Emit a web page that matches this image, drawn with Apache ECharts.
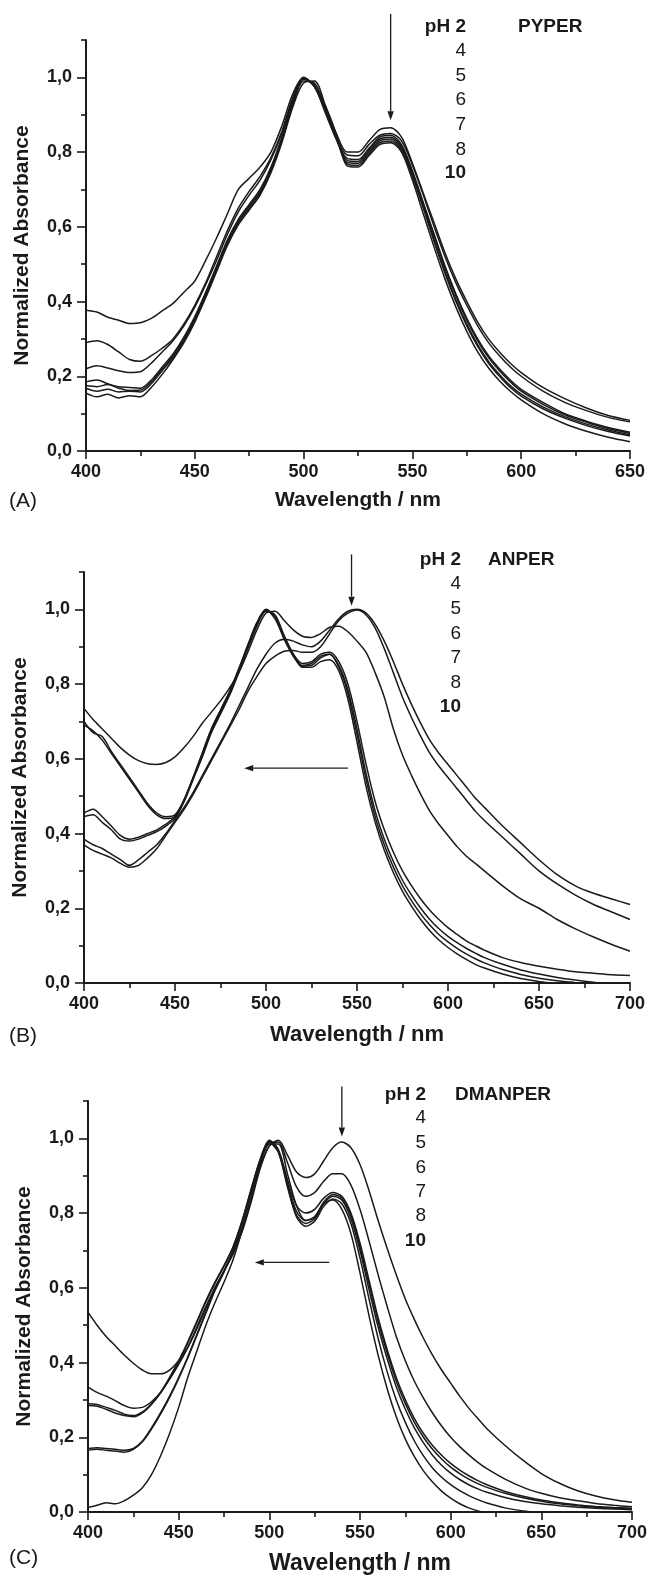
<!DOCTYPE html>
<html><head><meta charset="utf-8">
<script src="https://cdn.jsdelivr.net/npm/echarts@6/dist/echarts.min.js"></script>
<style>html,body{margin:0;padding:0;background:#fff}#c{width:650px;height:1576px}</style>
</head><body><div id="c"></div><script>
// ---------- DATA ----------
const wlA = [400,405,410,415,420,425,430,435,440,445,450,455,460,465,470,475,480,485,490,495,500,505,510,515,520,525,530,535,540,545,550,555,560,565,570,575,580,585,590,595,600,610,620,630,640,650];
const wlB = [400,405,410,415,420,425,430,435,440,445,450,455,460,465,470,475,480,485,490,495,500,505,510,515,520,525,530,535,540,545,550,555,560,565,570,575,580,585,590,595,600,605,610,615,620,630,640,650,660,670,680,690,700];
const wlC = wlB.slice();

const phLabels = ["pH 2","4","5","6","7","8","10"];
const compoundNames = ["PYPER","ANPER","DMANPER"];
const panelLetters = ["(A)","(B)","(C)"];
const yMajorTicks = [0,0.2,0.4,0.6,0.8,1.0];
const yMinorTicks = [0.1,0.3,0.5,0.7,0.9,1.1];

// Panel A: PYPER
const A_pH2 = [0.377,0.372,0.358,0.350,0.341,0.343,0.355,0.375,0.395,0.425,0.455,0.510,0.570,0.635,0.700,0.730,0.760,0.800,0.870,0.955,1.000,0.975,0.915,0.850,0.800,0.800,0.830,0.860,0.865,0.840,0.770,0.690,0.610,0.530,0.460,0.400,0.345,0.300,0.265,0.235,0.210,0.170,0.140,0.115,0.095,0.082];
const A_pH4 = [0.290,0.295,0.285,0.265,0.245,0.240,0.255,0.275,0.300,0.340,0.390,0.450,0.520,0.590,0.650,0.695,0.735,0.785,0.855,0.945,0.998,0.975,0.910,0.840,0.792,0.790,0.820,0.845,0.850,0.830,0.765,0.685,0.600,0.520,0.450,0.390,0.335,0.290,0.255,0.225,0.200,0.160,0.130,0.108,0.090,0.078];
const A_pH5 = [0.220,0.228,0.222,0.215,0.210,0.212,0.235,0.265,0.295,0.335,0.385,0.445,0.510,0.580,0.640,0.685,0.725,0.780,0.850,0.940,0.998,0.975,0.905,0.835,0.783,0.780,0.810,0.840,0.845,0.820,0.750,0.665,0.580,0.495,0.420,0.355,0.300,0.255,0.220,0.190,0.165,0.130,0.100,0.080,0.063,0.050];
const A_pH6 = [0.185,0.190,0.180,0.172,0.170,0.168,0.190,0.225,0.260,0.305,0.360,0.425,0.495,0.565,0.620,0.660,0.700,0.760,0.840,0.935,0.998,0.978,0.910,0.835,0.778,0.775,0.805,0.835,0.840,0.815,0.745,0.660,0.575,0.490,0.415,0.350,0.295,0.250,0.215,0.185,0.160,0.125,0.097,0.077,0.060,0.047];
const A_pH7 = [0.175,0.172,0.178,0.168,0.162,0.163,0.185,0.220,0.255,0.300,0.355,0.420,0.490,0.560,0.615,0.655,0.695,0.755,0.835,0.930,0.995,0.980,0.915,0.840,0.772,0.770,0.800,0.830,0.835,0.810,0.740,0.655,0.565,0.480,0.405,0.340,0.285,0.240,0.205,0.175,0.152,0.118,0.092,0.072,0.056,0.043];
const A_pH8 = [0.168,0.160,0.165,0.158,0.160,0.158,0.180,0.215,0.250,0.295,0.350,0.415,0.485,0.555,0.610,0.650,0.690,0.750,0.830,0.925,0.990,0.985,0.920,0.845,0.768,0.765,0.795,0.825,0.830,0.805,0.735,0.650,0.560,0.475,0.400,0.335,0.280,0.235,0.200,0.170,0.147,0.113,0.088,0.068,0.052,0.040];
const A_pH10 = [0.155,0.145,0.152,0.142,0.148,0.145,0.170,0.205,0.245,0.290,0.345,0.410,0.480,0.550,0.605,0.645,0.685,0.745,0.825,0.920,0.985,0.990,0.925,0.850,0.763,0.760,0.790,0.820,0.825,0.800,0.725,0.635,0.545,0.460,0.385,0.320,0.265,0.222,0.188,0.160,0.137,0.100,0.073,0.053,0.037,0.025];

// Panel B: ANPER
const B_pH2 = [0.385,0.370,0.360,0.345,0.330,0.315,0.330,0.350,0.370,0.400,0.435,0.470,0.510,0.555,0.600,0.645,0.690,0.740,0.790,0.840,0.880,0.910,0.920,0.915,0.905,0.900,0.915,0.945,0.975,0.995,1.000,0.990,0.960,0.915,0.860,0.800,0.745,0.695,0.650,0.615,0.585,0.555,0.525,0.495,0.470,0.420,0.375,0.330,0.290,0.260,0.240,0.225,0.210];
const B_pH4 = [0.370,0.355,0.345,0.335,0.320,0.310,0.315,0.335,0.360,0.395,0.430,0.465,0.505,0.550,0.595,0.640,0.685,0.730,0.780,0.820,0.855,0.875,0.888,0.890,0.885,0.885,0.900,0.935,0.970,0.990,0.998,0.985,0.950,0.895,0.830,0.765,0.710,0.660,0.615,0.580,0.550,0.520,0.490,0.460,0.435,0.390,0.345,0.300,0.265,0.235,0.210,0.190,0.170];
const B_pH5 = [0.735,0.705,0.680,0.655,0.630,0.610,0.595,0.587,0.585,0.590,0.605,0.630,0.660,0.695,0.725,0.755,0.790,0.830,0.885,0.945,0.990,0.995,0.970,0.945,0.928,0.925,0.935,0.952,0.955,0.940,0.915,0.885,0.830,0.765,0.680,0.610,0.555,0.505,0.460,0.425,0.395,0.365,0.340,0.320,0.300,0.260,0.225,0.200,0.170,0.145,0.123,0.103,0.085];
const B_pH6 = [0.700,0.670,0.660,0.620,0.585,0.550,0.515,0.480,0.455,0.445,0.450,0.490,0.550,0.615,0.680,0.730,0.780,0.840,0.900,0.960,0.998,0.975,0.925,0.880,0.855,0.860,0.880,0.885,0.860,0.800,0.700,0.585,0.485,0.410,0.350,0.300,0.260,0.225,0.195,0.170,0.148,0.130,0.113,0.100,0.088,0.068,0.055,0.045,0.037,0.030,0.026,0.022,0.020];
const B_pH7 = [0.690,0.675,0.650,0.615,0.580,0.545,0.510,0.475,0.450,0.440,0.445,0.490,0.550,0.615,0.680,0.730,0.780,0.840,0.905,0.965,1.000,0.975,0.920,0.875,0.850,0.855,0.875,0.880,0.850,0.785,0.680,0.560,0.460,0.385,0.325,0.275,0.235,0.200,0.170,0.145,0.125,0.108,0.093,0.080,0.068,0.050,0.035,0.024,0.015,0.008,0.002,-0.003,-0.006];
const B_pH8 = [0.455,0.465,0.445,0.420,0.395,0.385,0.390,0.400,0.410,0.425,0.445,0.490,0.550,0.610,0.675,0.725,0.775,0.835,0.900,0.960,0.998,0.980,0.925,0.875,0.848,0.850,0.870,0.880,0.845,0.775,0.665,0.545,0.445,0.370,0.310,0.260,0.220,0.185,0.155,0.130,0.110,0.093,0.078,0.065,0.054,0.036,0.023,0.013,0.006,0.001,-0.004,-0.008,-0.012];
const B_pH10 = [0.445,0.450,0.430,0.410,0.385,0.380,0.385,0.395,0.405,0.420,0.440,0.485,0.545,0.605,0.670,0.720,0.770,0.830,0.895,0.955,0.995,0.985,0.930,0.880,0.845,0.845,0.860,0.865,0.835,0.760,0.645,0.525,0.430,0.355,0.295,0.245,0.205,0.170,0.140,0.115,0.095,0.078,0.063,0.050,0.040,0.024,0.012,0.004,-0.003,-0.010,-0.015,-0.020,-0.025];

// Panel C: DMANPER
const C_pH2 = [0.535,0.500,0.470,0.445,0.420,0.398,0.380,0.370,0.370,0.380,0.405,0.440,0.490,0.545,0.600,0.645,0.690,0.750,0.830,0.920,0.980,0.995,0.955,0.910,0.895,0.905,0.940,0.975,0.990,0.975,0.930,0.860,0.780,0.705,0.635,0.570,0.515,0.465,0.420,0.380,0.345,0.310,0.278,0.250,0.223,0.178,0.138,0.103,0.077,0.057,0.043,0.033,0.026];
const C_pH4 = [0.335,0.320,0.310,0.298,0.285,0.278,0.280,0.295,0.320,0.355,0.395,0.440,0.495,0.550,0.600,0.645,0.695,0.760,0.840,0.925,0.980,0.990,0.935,0.870,0.845,0.855,0.885,0.905,0.905,0.875,0.810,0.725,0.635,0.550,0.470,0.405,0.350,0.305,0.265,0.230,0.200,0.175,0.153,0.133,0.116,0.088,0.066,0.050,0.038,0.030,0.023,0.018,0.014];
const C_pH5 = [0.290,0.288,0.280,0.272,0.262,0.258,0.268,0.290,0.320,0.360,0.405,0.455,0.510,0.565,0.615,0.660,0.710,0.780,0.865,0.945,0.995,0.970,0.890,0.820,0.800,0.810,0.840,0.855,0.845,0.800,0.720,0.620,0.520,0.435,0.360,0.300,0.250,0.210,0.178,0.152,0.130,0.112,0.097,0.084,0.073,0.055,0.042,0.032,0.025,0.019,0.015,0.012,0.010];
const C_pH6 = [0.285,0.283,0.275,0.265,0.258,0.255,0.265,0.288,0.318,0.358,0.402,0.452,0.507,0.562,0.612,0.657,0.708,0.778,0.862,0.942,0.993,0.965,0.880,0.805,0.780,0.790,0.830,0.850,0.840,0.795,0.710,0.610,0.510,0.425,0.350,0.290,0.240,0.200,0.168,0.142,0.120,0.103,0.088,0.076,0.066,0.050,0.038,0.029,0.022,0.017,0.013,0.010,0.008];
const C_pH7 = [0.170,0.172,0.170,0.168,0.165,0.170,0.190,0.225,0.265,0.310,0.360,0.415,0.475,0.535,0.595,0.645,0.700,0.775,0.860,0.940,0.990,0.965,0.875,0.795,0.772,0.785,0.825,0.845,0.835,0.785,0.700,0.595,0.495,0.410,0.335,0.275,0.225,0.185,0.152,0.125,0.104,0.087,0.073,0.062,0.053,0.039,0.029,0.022,0.017,0.013,0.010,0.008,0.006];
const C_pH8 = [0.165,0.168,0.165,0.163,0.160,0.168,0.188,0.222,0.262,0.307,0.357,0.412,0.472,0.532,0.592,0.642,0.698,0.772,0.857,0.937,0.988,0.962,0.870,0.790,0.765,0.778,0.818,0.838,0.825,0.772,0.680,0.570,0.465,0.375,0.300,0.240,0.190,0.150,0.118,0.093,0.073,0.057,0.044,0.033,0.024,0.011,0.003,-0.002,-0.006,-0.010,-0.013,-0.016,-0.018];
const C_pH10 = [0.012,0.018,0.025,0.022,0.030,0.045,0.065,0.100,0.150,0.210,0.280,0.360,0.430,0.500,0.560,0.615,0.675,0.755,0.845,0.930,0.985,0.985,0.905,0.820,0.780,0.790,0.825,0.835,0.810,0.745,0.640,0.525,0.420,0.330,0.255,0.195,0.148,0.110,0.080,0.056,0.037,0.022,0.011,0.003,-0.003,-0.010,-0.015,-0.020,-0.025,-0.030,-0.035,-0.040,-0.045];

// annotation arrows, in data coordinates [x0, y0, x1(tip), y1(tip)]
const arrowsA = [[540, 1.17, 540, 0.885]];
const arrowsB = [[547, 1.147, 547, 1.01], [545, 0.575, 488, 0.575]];
const arrowsC = [[540, 1.139, 540, 1.005], [533, 0.668, 492, 0.668]];

// ---------- CHART ----------
const FONT = "'Liberation Sans', Arial, Helvetica, sans-serif";
const INK = '#1a1a1a';
const panels = [
  { wl: wlA, curves: [A_pH2,A_pH4,A_pH5,A_pH6,A_pH7,A_pH8,A_pH10], xmax: 650, arrows: arrowsA,
    grid: {left: 86, top: 40, width: 544, height: 411}, nameGap: 39, titleSize: 21,
    legend: {rightX: 466, nameX: 518, ys: [27,51,76,100,125,150,173]}, letterY: 501 },
  { wl: wlB, curves: [B_pH2,B_pH4,B_pH5,B_pH6,B_pH7,B_pH8,B_pH10], xmax: 700, arrows: arrowsB,
    grid: {left: 84, top: 572, width: 546, height: 411}, nameGap: 41, titleSize: 22,
    legend: {rightX: 461, nameX: 488, ys: [560,584,609,634,658,683,707]}, letterY: 1036 },
  { wl: wlC, curves: [C_pH2,C_pH4,C_pH5,C_pH6,C_pH7,C_pH8,C_pH10], xmax: 700, arrows: arrowsC,
    grid: {left: 88, top: 1101, width: 546, height: 411}, nameGap: 40, titleSize: 23,
    legend: {rightX: 426, nameX: 455, ys: [1095,1118,1143,1168,1192,1216,1241]}, letterY: 1558 }
];

const fmt = v => v.toFixed(1).replace('.', ',');
const axisLineStyle = {color: INK, width: 2};

const option = {
  animation: false,
  backgroundColor: '#fff',
  grid: panels.map(p => Object.assign({containLabel: false}, p.grid)),
  xAxis: panels.map((p, k) => ({
    type: 'value', gridIndex: k, min: 400, max: p.xmax, interval: 50,
    axisLine: {show: true, onZero: false, lineStyle: axisLineStyle},
    axisTick: {show: true, length: 8, lineStyle: {color: INK, width: 1.6}},
    minorTick: {show: true, splitNumber: 2, length: 5, lineStyle: {color: INK, width: 1.6}},
    axisLabel: {fontSize: 18, fontWeight: 'bold', fontFamily: FONT, color: INK, margin: 12},
    splitLine: {show: false}, minorSplitLine: {show: false},
    name: 'Wavelength / nm', nameLocation: 'middle', nameGap: p.nameGap,
    nameTextStyle: {fontSize: p.titleSize, fontWeight: 'bold', fontFamily: FONT, color: INK}
  })),
  yAxis: [],
  series: [],
  graphic: []
};

panels.forEach((p, k) => {
  option.yAxis.push({
    type: 'value', gridIndex: k, min: 0, max: 1.1, position: 'left',
    axisLine: {show: true, onZero: false, lineStyle: axisLineStyle},
    axisTick: {show: true, length: 9, customValues: yMajorTicks, lineStyle: {color: INK, width: 1.6}},
    axisLabel: {customValues: yMajorTicks, formatter: fmt, fontSize: 18, fontWeight: 'bold', fontFamily: FONT, color: INK, margin: 14},
    splitLine: {show: false},
    name: 'Normalized Absorbance', nameLocation: 'middle', nameGap: 53,
    nameTextStyle: {fontSize: 21, fontWeight: 'bold', fontFamily: FONT, color: INK}
  });
  option.yAxis.push({
    type: 'value', gridIndex: k, min: 0, max: 1.1, position: 'left', offset: 0,
    axisLine: {show: false},
    axisTick: {show: true, length: 5, customValues: yMinorTicks, lineStyle: {color: INK, width: 1.6}},
    axisLabel: {show: false}, splitLine: {show: false}
  });
  p.curves.forEach((vals, i) => {
    option.series.push({
      type: 'line', name: phLabels[i] + ' ' + compoundNames[k],
      xAxisIndex: k, yAxisIndex: 2 * k,
      data: p.wl.map((w, j) => [w, vals[j]]),
      showSymbol: false, symbol: 'none', smooth: 0.3, clip: true,
      lineStyle: {color: INK, width: 1.5}
    });
  });
  // legend-like text column
  p.legend.ys.forEach((y, i) => {
    const bold = (i === 0 || i === phLabels.length - 1);
    option.graphic.push({type: 'text', style: {
      text: phLabels[i], x: p.legend.rightX, y: y,
      align: 'right', textAlign: 'right', verticalAlign: 'middle', textVerticalAlign: 'middle',
      font: (bold ? 'bold ' : '') + '19px ' + FONT, fill: INK}});
  });
  option.graphic.push({type: 'text', style: {
    text: compoundNames[k], x: p.legend.nameX, y: p.legend.ys[0],
    align: 'left', textAlign: 'left', verticalAlign: 'middle', textVerticalAlign: 'middle',
    font: 'bold 19px ' + FONT, fill: INK}});
  option.graphic.push({type: 'text', style: {
    text: panelLetters[k], x: 9, y: p.letterY,
    align: 'left', textAlign: 'left', verticalAlign: 'middle', textVerticalAlign: 'middle',
    font: '21px ' + FONT, fill: INK}});
});

const chart = echarts.init(document.getElementById('c'), null, {renderer: 'canvas', width: 650, height: 1576});
chart.setOption(option);

// arrows through the axis scales
const arrowEls = [];
panels.forEach((p, k) => {
  p.arrows.forEach(a => {
    const s = chart.convertToPixel({xAxisIndex: k, yAxisIndex: 2 * k}, [a[0], a[1]]);
    const e = chart.convertToPixel({xAxisIndex: k, yAxisIndex: 2 * k}, [a[2], a[3]]);
    const dx = e[0] - s[0], dy = e[1] - s[1];
    const len = Math.sqrt(dx * dx + dy * dy);
    const ux = dx / len, uy = dy / len;
    const hl = 9, hw = 3.2;
    const bx = e[0] - ux * hl, by = e[1] - uy * hl;
    arrowEls.push({type: 'line', shape: {x1: s[0], y1: s[1], x2: bx, y2: by}, style: {stroke: INK, lineWidth: 1.3}, z: 50});
    arrowEls.push({type: 'polygon', shape: {points: [[e[0], e[1]], [bx - uy * hw, by + ux * hw], [bx + uy * hw, by - ux * hw]]}, style: {fill: INK}, z: 50});
  });
});
chart.setOption({graphic: option.graphic.concat(arrowEls)}, {replaceMerge: ['graphic']});
</script></body></html>
